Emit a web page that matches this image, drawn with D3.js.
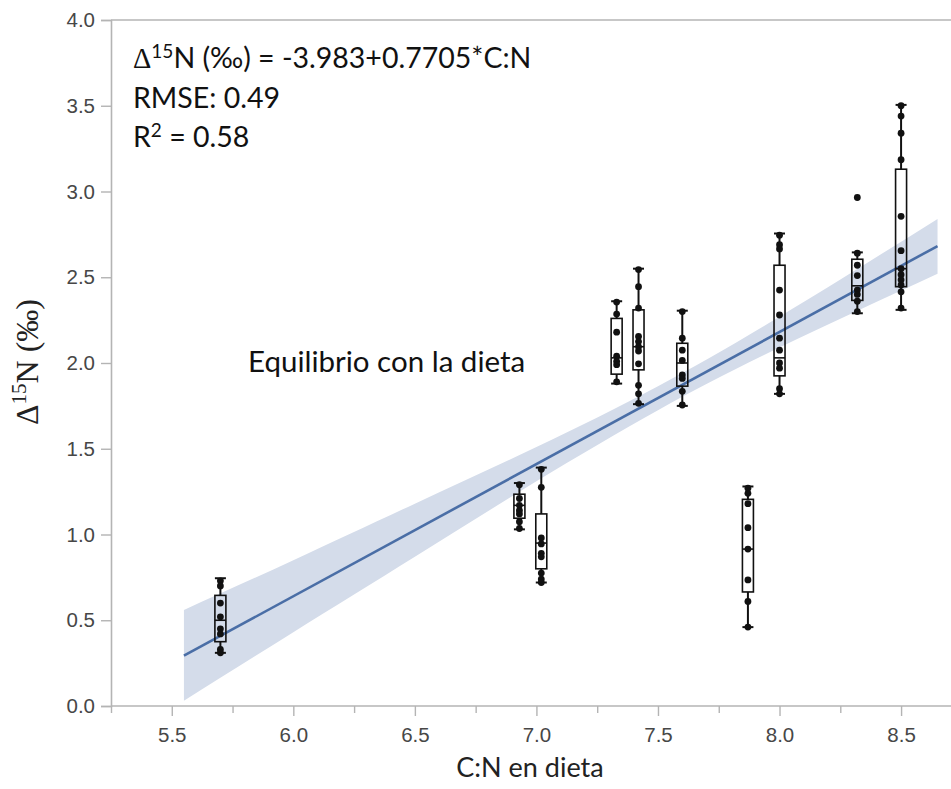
<!DOCTYPE html>
<html>
<head>
<meta charset="utf-8">
<script src="https://cdn.jsdelivr.net/npm/d3@7/dist/d3.min.js"></script>
<style>
  html, body { margin: 0; padding: 0; background: #fff; }
  svg { display: block; }
</style>
</head>
<body>
<svg id="chart" width="951" height="789"></svg>
<script>
// C:N of each diet group
const groupCN = [5.7, 6.93, 7.02, 7.33, 7.42, 7.6, 7.87, 8.0, 8.32, 8.5];
// Box-plot summaries of Δ15N per group
const whiskerLow  = [0.31, 1.03, 0.72, 1.88, 1.76, 1.75, 0.46, 1.82, 2.29, 2.31];
const q1          = [0.375, 1.095, 0.80, 1.935, 1.96, 1.865, 0.665, 1.925, 2.365, 2.445];
const median      = [0.50, 1.17, 0.95, 2.03, 2.095, 2.00, 0.915, 2.03, 2.45, 2.55];
const q3          = [0.645, 1.235, 1.12, 2.26, 2.31, 2.115, 1.205, 2.57, 2.605, 3.13];
const whiskerHigh = [0.745, 1.30, 1.39, 2.36, 2.55, 2.305, 1.28, 2.755, 2.645, 3.505];
// Individual observations per group
const groupPoints = [
  [0.73, 0.70, 0.60, 0.52, 0.45, 0.42, 0.33, 0.31],
  [1.29, 1.21, 1.17, 1.14, 1.12, 1.075, 1.035],
  [1.38, 1.275, 0.98, 0.945, 0.89, 0.87, 0.775, 0.74, 0.72],
  [2.355, 2.285, 2.18, 2.04, 2.01, 1.99, 1.89],
  [2.545, 2.445, 2.32, 2.155, 2.125, 2.095, 2.07, 1.995, 1.87, 1.82, 1.765],
  [2.30, 2.145, 2.075, 2.015, 1.93, 1.91, 1.835, 1.755],
  [1.27, 1.24, 1.18, 1.04, 0.915, 0.735, 0.61, 0.46],
  [2.745, 2.69, 2.665, 2.425, 2.28, 2.145, 2.075, 2.0, 1.97, 1.85, 1.82],
  [2.965, 2.64, 2.57, 2.51, 2.425, 2.40, 2.36, 2.30],
  [3.50, 3.44, 3.34, 3.185, 2.855, 2.655, 2.55, 2.515, 2.485, 2.455, 2.415, 2.32]
];
// Fitted line Δ15N = -3.983 + 0.7705·C:N and its confidence band
const fitIntercept = -3.983;
const fitSlope = 0.7705;
const bandCN    = [5.55, 6.0, 6.5, 7.0, 7.5, 8.0, 8.65];
const bandLower = [0.03, 0.43, 0.87, 1.31, 1.725, 2.09, 2.52];
const bandUpper = [0.56, 0.85, 1.18, 1.51, 1.865, 2.27, 2.84];
// Axis ticks
const xTicks = [5.5, 6.0, 6.5, 7.0, 7.5, 8.0, 8.5];
const xMinorTicks = [5.25, 5.75, 6.25, 6.75, 7.25, 7.75, 8.25];
const yTicks = [0, 0.5, 1.0, 1.5, 2.0, 2.5, 3.0, 3.5, 4.0];

const svg = d3.select("#chart");
const W = 951, H = 789;
const plotLeft = 111, plotTop = 20, plotBottom = 706;

const x = d3.scaleLinear().domain([5.25, 5.25 + (W - plotLeft) / 243.1]).range([plotLeft, W]);
const y = d3.scaleLinear().domain([0, 4]).range([plotBottom, plotTop]);

const axisColor = "#b4b4b4";
const tickFont = "'Liberation Sans', Arial, sans-serif";
const textFont = "Lato, 'Open Sans', sans-serif";
const serifFont = "'Liberation Serif', 'Times New Roman', serif";

// Confidence band
const band = bandCN.map((c, i) => ({ c, lo: bandLower[i], hi: bandUpper[i] }));
svg.append("path")
  .datum(band)
  .attr("fill", "#d4dcea")
  .attr("d", d3.area().curve(d3.curveNatural)
    .x(d => x(d.c)).y0(d => y(d.lo)).y1(d => y(d.hi)));

// Fitted line
const fitEnds = [bandCN[0], bandCN[bandCN.length - 1]];
svg.append("path")
  .datum(fitEnds)
  .attr("fill", "none")
  .attr("stroke", "#4a6ea6")
  .attr("stroke-width", 2.6)
  .attr("d", d3.line().x(d => x(d)).y(d => y(fitIntercept + fitSlope * d)));

// Axes
const xAxis = svg.append("g").attr("transform", `translate(0,${plotBottom})`)
  .call(d3.axisBottom(x).tickValues(xTicks).tickFormat(d3.format(".1f")).tickSize(10).tickPadding(11));
const xMinor = svg.append("g").attr("transform", `translate(0,${plotBottom})`)
  .call(d3.axisBottom(x).tickValues(xMinorTicks).tickFormat("").tickSize(7));
const yAxis = svg.append("g").attr("transform", `translate(${plotLeft},0)`)
  .call(d3.axisLeft(y).tickValues(yTicks).tickFormat(d3.format(".1f")).tickSize(10).tickPadding(6));

[xAxis, xMinor, yAxis].forEach(g => {
  g.select(".domain").attr("stroke", axisColor).attr("stroke-width", 1.6);
  g.selectAll(".tick line").attr("stroke", axisColor).attr("stroke-width", 1.4);
  g.selectAll(".tick text").attr("fill", "#474747").style("font-family", tickFont).style("font-size", "20.5px");
});
xAxis.select(".domain").attr("d", `M${plotLeft},0H${W}`);
xMinor.select(".domain").remove();

// Top frame line
svg.append("line")
  .attr("x1", plotLeft).attr("x2", W).attr("y1", y(4)).attr("y2", y(4))
  .attr("stroke", axisColor).attr("stroke-width", 1.6);

// Box plots
const boxW = 11, capW = 11;
const groups = svg.append("g").selectAll("g").data(groupCN).join("g");
groups.append("line")
  .attr("x1", d => x(d)).attr("x2", d => x(d))
  .attr("y1", (d, i) => y(whiskerLow[i])).attr("y2", (d, i) => y(q1[i]))
  .attr("stroke", "#111").attr("stroke-width", 2);
groups.append("line")
  .attr("x1", d => x(d)).attr("x2", d => x(d))
  .attr("y1", (d, i) => y(q3[i])).attr("y2", (d, i) => y(whiskerHigh[i]))
  .attr("stroke", "#111").attr("stroke-width", 2);
[whiskerLow, whiskerHigh].forEach(arr => {
  groups.append("line")
    .attr("x1", d => x(d) - capW / 2).attr("x2", d => x(d) + capW / 2)
    .attr("y1", (d, i) => y(arr[i])).attr("y2", (d, i) => y(arr[i]))
    .attr("stroke", "#111").attr("stroke-width", 2);
});
groups.append("rect")
  .attr("x", d => x(d) - boxW / 2).attr("width", boxW)
  .attr("y", (d, i) => y(q3[i])).attr("height", (d, i) => y(q1[i]) - y(q3[i]))
  .attr("fill", "none").attr("stroke", "#111").attr("stroke-width", 1.6);
groups.append("line")
  .attr("x1", d => x(d) - boxW / 2).attr("x2", d => x(d) + boxW / 2)
  .attr("y1", (d, i) => y(median[i])).attr("y2", (d, i) => y(median[i]))
  .attr("stroke", "#111").attr("stroke-width", 1.6);
groups.selectAll("circle")
  .data((d, i) => groupPoints[i].map(v => ({ c: d, v })))
  .join("circle")
  .attr("cx", p => x(p.c)).attr("cy", p => y(p.v)).attr("r", 3.4)
  .attr("fill", "#111");

// Regression annotation
const note = svg.append("g").style("font-family", textFont).style("font-size", "28.5px").attr("fill", "#111");
const l1 = note.append("text").attr("x", 133).attr("y", 68);
l1.append("tspan").style("font-family", serifFont).text("\u0394");
l1.append("tspan").attr("dy", -10).style("font-size", "19px").text("15");
l1.append("tspan").attr("dy", 10).text("N (\u2030) = -3.983+0.7705*C:N");
note.append("text").attr("x", 133).attr("y", 108).text("RMSE: 0.49");
const l3 = note.append("text").attr("x", 133).attr("y", 147);
l3.append("tspan").text("R");
l3.append("tspan").attr("dy", -10).style("font-size", "19px").text("2");
l3.append("tspan").attr("dy", 10).text(" = 0.58");

svg.append("text")
  .attr("x", 248).attr("y", 372)
  .style("font-family", textFont).style("font-size", "29.5px").attr("fill", "#111")
  .text("Equilibrio con la dieta");

// Axis titles
svg.append("text")
  .attr("x", 530).attr("y", 777).attr("text-anchor", "middle")
  .style("font-family", textFont).style("font-size", "27px").attr("fill", "#222")
  .text("C:N en dieta");

const yt = svg.append("text")
  .attr("transform", `translate(38,362) rotate(-90)`).attr("text-anchor", "middle")
  .style("font-family", serifFont).style("font-size", "32px").attr("fill", "#222");
yt.append("tspan").text("\u0394");
yt.append("tspan").attr("dy", -12).style("font-size", "21px").text("15");
yt.append("tspan").attr("dy", 12).text("N (\u2030)");
</script>
</body>
</html>
